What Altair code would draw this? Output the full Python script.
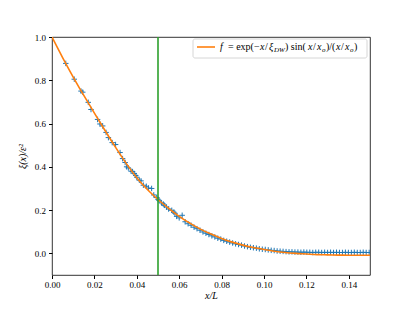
import altair as alt
import pandas as pd

# measured data points (crosses)
data_x = [0.0065, 0.0105, 0.0137, 0.0145, 0.0171, 0.0184, 0.0215, 0.0226, 0.0239, 0.0255,
          0.0266, 0.0284, 0.0300, 0.0321, 0.0333, 0.0345, 0.0352, 0.0360, 0.0373, 0.0380,
          0.0388, 0.0395, 0.0400, 0.0412, 0.0420, 0.0431, 0.0445, 0.0455, 0.0470, 0.0480,
          0.0494, 0.0500, 0.0505, 0.0517, 0.0525, 0.0530, 0.0540, 0.0550, 0.0565, 0.0575,
          0.0580, 0.0588,
          0.0600, 0.0614, 0.0628, 0.0642, 0.0656, 0.0670, 0.0684, 0.0698, 0.0712, 0.0726,
          0.0740, 0.0754, 0.0768, 0.0782, 0.0796, 0.0810, 0.0824, 0.0838, 0.0852, 0.0866,
          0.0880, 0.0894, 0.0908, 0.0922, 0.0936, 0.0950, 0.0964, 0.0978, 0.0992, 0.1006,
          0.1020, 0.1034, 0.1048, 0.1062, 0.1076, 0.1090, 0.1104, 0.1118, 0.1132, 0.1146,
          0.1160, 0.1174, 0.1188, 0.1202, 0.1216, 0.1230, 0.1244, 0.1258, 0.1272, 0.1286,
          0.1300, 0.1314, 0.1328, 0.1342, 0.1356, 0.1370, 0.1384, 0.1398, 0.1412, 0.1426,
          0.1440, 0.1454, 0.1468, 0.1482, 0.1496]
data_y = [0.878, 0.805, 0.750, 0.745, 0.698, 0.665, 0.619, 0.598, 0.589, 0.559,
          0.535, 0.512, 0.503, 0.466, 0.438, 0.420, 0.400, 0.395, 0.380, 0.378,
          0.369, 0.360, 0.352, 0.338, 0.335, 0.315, 0.310, 0.302, 0.300, 0.270,
          0.258, 0.250, 0.245, 0.233, 0.228, 0.222, 0.214, 0.205, 0.199, 0.190,
          0.185, 0.171,
          0.164, 0.176, 0.146, 0.137, 0.130, 0.121, 0.114, 0.107, 0.099, 0.093,
          0.087, 0.081, 0.076, 0.070, 0.066, 0.060, 0.056, 0.052, 0.048, 0.044,
          0.041, 0.038, 0.034, 0.031, 0.028, 0.026, 0.024, 0.021, 0.019, 0.018,
          0.016, 0.014, 0.013, 0.011, 0.010, 0.009, 0.008, 0.007, 0.007, 0.006,
          0.006, 0.005, 0.006, 0.005, 0.005, 0.004, 0.005, 0.005, 0.004, 0.005,
          0.004, 0.005, 0.004, 0.005, 0.004, 0.004, 0.005, 0.004, 0.004, 0.005,
          0.004, 0.004, 0.005, 0.004, 0.004]

# fitted curve f = exp(-x/xi_DW) sin(x/x_o)/(x/x_o)
fit_x = [0.000, 0.005, 0.010, 0.015, 0.020, 0.025, 0.030, 0.035, 0.040, 0.045,
         0.050, 0.055, 0.060, 0.065, 0.070, 0.075, 0.080, 0.085, 0.090, 0.095,
         0.100, 0.105, 0.110, 0.115, 0.120, 0.125, 0.130, 0.135, 0.140, 0.145, 0.150]
fit_y = [1.000, 0.905, 0.815, 0.730, 0.648, 0.568, 0.490, 0.416, 0.350, 0.295,
         0.249, 0.208, 0.171, 0.140, 0.112, 0.089, 0.069, 0.052, 0.038, 0.027,
         0.018, 0.010, 0.004, 0.000, -0.003, -0.006, -0.007, -0.008, -0.0085, -0.0086, -0.0084]

vline_x = [0.05]
x_ticks = [0.00, 0.02, 0.04, 0.06, 0.08, 0.10, 0.12, 0.14]
y_ticks = [0.0, 0.2, 0.4, 0.6, 0.8, 1.0]

W, H = 318, 238
FONT = "Liberation Serif"

pts = pd.DataFrame({"x": data_x, "y": data_y})
fit = pd.DataFrame({"x": fit_x, "y": fit_y})
vl = pd.DataFrame({"x": vline_x})
one = pd.DataFrame({"a": [0]})

xscale = alt.Scale(domain=[0, 0.15], nice=False, zero=False)
yscale = alt.Scale(domain=[-0.1, 1.0], nice=False, zero=False)

xaxis = alt.Axis(values=x_ticks, format=".2f", title="x/L", grid=False, domain=False,
                 tickColor="black", tickSize=3.5, labelFont=FONT, labelFontSize=9,
                 labelColor="black", labelFlush=False, titleFont=FONT, titleFontSize=10,
                 titleFontStyle="italic", titleFontWeight="normal", titleColor="black",
                 titlePadding=1, labelPadding=2)
yaxis = alt.Axis(values=y_ticks, format=".1f", title="ξ(x)/ε²", grid=False, domain=False,
                 tickColor="black", tickSize=3.5, labelFont=FONT, labelFontSize=9,
                 labelColor="black", labelFlush=False, titleFont=FONT, titleFontSize=10,
                 titleFontStyle="italic", titleFontWeight="normal", titleColor="black",
                 titlePadding=7, labelPadding=3)

crosses = alt.Chart(pts).mark_point(
    shape="M-1,0L1,0M0,-1L0,1", filled=False, size=30, strokeWidth=1,
    color="#1f77b4", opacity=1, clip=True
).encode(x=alt.X("x:Q", scale=xscale, axis=xaxis), y=alt.Y("y:Q", scale=yscale, axis=yaxis))

curve = alt.Chart(fit).mark_line(color="#ff7f0e", strokeWidth=1.6, interpolate="monotone", clip=True).encode(
    x=alt.X("x:Q", scale=xscale), y=alt.Y("y:Q", scale=yscale))

vline = alt.Chart(vl).mark_rule(color="#2ca02c", strokeWidth=1.6).encode(x=alt.X("x:Q", scale=xscale))

# legend box
box = alt.Chart(one).mark_rect(fill="white", stroke="#cccccc", strokeWidth=0.8, cornerRadius=2).encode(
    x=alt.value(141), x2=alt.value(315), y=alt.value(2), y2=alt.value(21))
sample = alt.Chart(one).mark_rule(color="#ff7f0e", strokeWidth=1.6).encode(
    x=alt.value(145), x2=alt.value(163), y=alt.value(10))

def txt(s, x, y, size=10, style="normal"):
    return alt.Chart(one).mark_text(text=s, align="left", baseline="middle", font=FONT,
                                    fontSize=size, fontStyle=style, color="black").encode(
        x=alt.value(x), y=alt.value(y))

legend_parts = [
    txt("f", 168, 10, style="italic"),
    txt("= exp(−", 176, 10),
    txt("x", 208, 10, style="italic"),
    txt("/", 213, 10),
    txt("ξ", 217, 10, style="italic"),
    txt("DW", 222, 13, size=7, style="italic"),
    txt(") sin(", 233, 10),
    txt("x", 256, 10, style="italic"),
    txt("/", 261, 10),
    txt("x", 265, 10, style="italic"),
    txt("o", 270, 13, size=7, style="italic"),
    txt(")/(", 274, 10),
    txt("x", 284, 10, style="italic"),
    txt("/", 289, 10),
    txt("x", 293, 10, style="italic"),
    txt("o", 298, 13, size=7, style="italic"),
    txt(")", 302, 10),
]

chart = alt.layer(crosses, curve, vline, box, sample, *legend_parts).properties(
    width=W, height=H,
    autosize=alt.AutoSizeParams(type="none"),
    padding={"left": 44, "top": 29, "right": 34, "bottom": 26},
).configure_view(stroke="black", strokeWidth=0.8)

chart.save("out.html", embed_options={"renderer": "svg", "actions": False})
